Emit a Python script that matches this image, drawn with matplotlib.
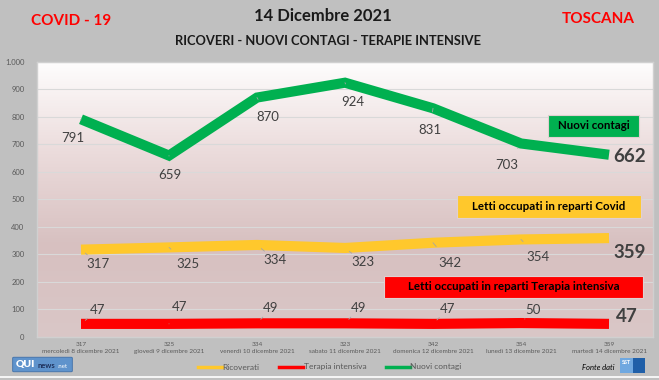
import numpy as np
import matplotlib
matplotlib.use("Agg")
import matplotlib.pyplot as plt
from matplotlib.patches import Rectangle, FancyBboxPatch
from matplotlib.lines import Line2D

plt.rcParams['font.family'] = ['Lato', 'DejaVu Sans']

# dati
giorni = ["mercoledì 8 dicembre 2021", "giovedì 9 dicembre 2021", "venerdì 10 dicembre 2021",
          "sabato 11 dicembre 2021", "domenica 12 dicembre 2021", "lunedì 13 dicembre 2021",
          "martedì 14 dicembre 2021"]
ricoverati = [317, 325, 334, 323, 342, 354, 359]
terapia = [47, 47, 49, 49, 47, 50, 47]
contagi = [791, 659, 870, 924, 831, 703, 662]

# offset etichette (pixel) rispetto al punto
off_contagi = [(-8, -19), (1, -19), (11, -19), (8, -19), (-3, -22), (-14, -22), (21, -2)]
off_ricov = [(17, -14), (19, -17), (18, -15), (18, -14), (17, -20), (17, -18), (21, -14)]
off_ti = [(17, 14), (11, 17), (14, 15), (14, 15), (15, 15), (12, 13), (18, 7)]

W, H = 659, 380
GREEN, YELLOW, RED = "#00b050", "#ffc82c", "#ff0000"
TXT = "#404040"

fig = plt.figure(figsize=(W / 100, H / 100), dpi=100)
fig.patch.set_facecolor("#c0c0c0")

def fx(px):
    return px / W

def fy(py):
    return 1 - py / H

ax = fig.add_axes([fx(37), fy(336.8), 616 / W, 275 / H])
x = np.arange(len(giorni))

# sfondo sfumato (bianco in alto, rosato in basso)
grad = np.linspace(0, 1, 256)[:, None]
cmap = matplotlib.colors.LinearSegmentedColormap.from_list("bg", ["#fefdfd", "#ebdbdb", "#d7c0c0", "#dac7c7"])
ax.imshow(grad, cmap=cmap, aspect="auto", extent=(-0.5, 6.5, 0, 1000), origin="upper", zorder=0)

ax.set_xlim(-0.5, 6.5)
ax.set_ylim(0, 1000)
ax.set_yticks(range(0, 1001, 100))
ax.set_yticklabels([f"{v:,}".replace(",", ".") for v in range(0, 1001, 100)])
ax.grid(axis="y", color="#d9d9d9", lw=0.8, zorder=1)
ax.set_axisbelow(True)
for s in ax.spines.values():
    s.set_color("#d0d0d0")
    s.set_linewidth(1)
ax.tick_params(axis="y", length=0, labelsize=5.5, labelcolor="#595959", pad=9)
ax.set_xticks(x)
ax.set_xticklabels([f"{r}\n{g}" for r, g in zip(ricoverati, giorni)], fontsize=4.6,
                   color="#595959", linespacing=1.5)
ax.tick_params(axis="x", length=0, pad=4)

lw = 7.3
ax.plot(x, contagi, color=GREEN, lw=lw, solid_capstyle="butt", solid_joinstyle="miter", zorder=3)
ax.plot(x, ricoverati, color=YELLOW, lw=lw, solid_capstyle="butt", solid_joinstyle="miter", zorder=3)
ax.plot(x, terapia, color=RED, lw=lw, solid_capstyle="butt", solid_joinstyle="miter", zorder=3)

def etichette(vals, offs):
    n = len(vals)
    for i, (v, o) in enumerate(zip(vals, offs)):
        last = i == n - 1
        ax.annotate(str(v), (x[i], v), xytext=o, textcoords="offset pixels",
                    ha="center", va="center", color=TXT,
                    fontsize=13.5 if last else 9.5, fontweight="bold" if last else "normal",
                    zorder=4, annotation_clip=False,
                    arrowprops=None if last else dict(arrowstyle="-", color="#a6a6a6", lw=0.6,
                                                      shrinkA=7, shrinkB=4))

etichette(contagi, off_contagi)
etichette(ricoverati, off_ricov)
etichette(terapia, off_ti)

# riquadri descrittivi
def riquadro(x0, y0, x1, y1, testo, col):
    fig.patches.append(Rectangle((fx(x0), fy(y1)), fx(x1) - fx(x0), fy(y0) - fy(y1),
                                 transform=fig.transFigure, facecolor=col,
                                 edgecolor="#e0d0d0", lw=0.8, zorder=6))
    fig.text(fx((x0 + x1) / 2), fy((y0 + y1) / 2), testo, ha="center", va="center",
             fontsize=8.3, fontweight="bold", color="black", zorder=7)

riquadro(548, 115, 639, 137, "Nuovi contagi", GREEN)
riquadro(457, 195, 641, 218, "Letti occupati in reparti Covid", YELLOW)
riquadro(384, 276, 643, 298, "Letti occupati in reparti Terapia intensiva", RED)

# titoli
fig.text(fx(71), fy(21), "COVID - 19", color="#ff0000", fontsize=11, fontweight="bold", ha="center", va="center")
fig.text(fx(598), fy(19), "TOSCANA", color="#ff0000", fontsize=11, fontweight="bold", ha="center", va="center")
fig.text(fx(323), fy(16), "14 Dicembre 2021", color="#1a1a1a", fontsize=12, fontweight="bold", ha="center", va="center")
fig.text(fx(328), fy(41), "RICOVERI - NUOVI CONTAGI - TERAPIE INTENSIVE", color="#1a1a1a",
         fontsize=9.3, fontweight="bold", ha="center", va="center")

# legenda
handles = [Line2D([], [], color=YELLOW, lw=2.5), Line2D([], [], color=RED, lw=2.5),
           Line2D([], [], color=GREEN, lw=2.5)]
fig.legend(handles, ["Ricoverati", "Terapia intensiva", "Nuovi contagi"], loc="center",
           bbox_to_anchor=(fx(330), fy(367)), ncol=3, frameon=False, fontsize=6,
           labelcolor="#595959", handlelength=2.8, handletextpad=0.1, columnspacing=2.4)

# logo QUInews
fig.patches.append(FancyBboxPatch((fx(14), fy(371)), fx(57), fy(358) - fy(371),
                                  boxstyle="round,pad=0.002", transform=fig.transFigure,
                                  facecolor="#5f93cc", edgecolor="#3f6fa8", lw=0.6))
fig.text(fx(15.5), fy(364.5), "QUI", color="white", fontsize=7.5, fontweight="heavy", va="center", ha="left")
fig.text(fx(37.5), fy(365.5), "news", color="#1d2f5a", fontsize=5.5, fontweight="bold", va="center", ha="left")
fig.text(fx(57.5), fy(366), ".net", color="white", fontsize=4.3, va="center", ha="left")

# fonte dati
fig.text(fx(598), fy(367), "Fonte dati", color="black", fontsize=5.5, style="italic", ha="center", va="center")
fig.patches.append(Rectangle((fx(620), fy(373)), fx(13), fy(358) - fy(373), transform=fig.transFigure,
                             facecolor="#6fa8e0", edgecolor="none"))
fig.patches.append(Rectangle((fx(633), fy(373)), fx(12), fy(358) - fy(373), transform=fig.transFigure,
                             facecolor="#1f5fa8", edgecolor="none"))
fig.text(fx(626.5), fy(362), "SST", color="white", fontsize=4, fontweight="bold", ha="center", va="center")

# riga bianca in basso
fig.add_artist(Line2D([0, 1], [fy(377), fy(377)], transform=fig.transFigure, color="white", lw=1.2))

fig.savefig("out.png", dpi=100)
